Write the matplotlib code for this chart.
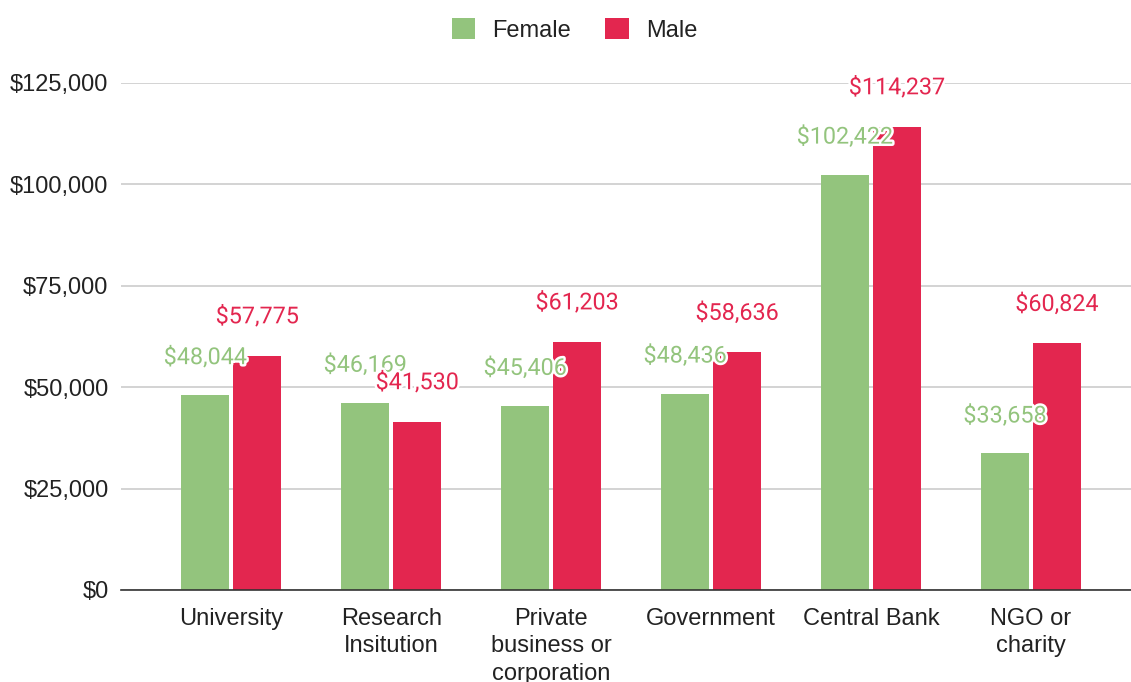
import matplotlib.pyplot as plt
import matplotlib.patheffects as pe
from matplotlib.ticker import FuncFormatter
from matplotlib.patches import Patch
import numpy as np

categories = ["University", "Research\nInsitution", "Private\nbusiness or\ncorporation",
              "Government", "Central Bank", "NGO or\ncharity"]
female = [48044, 46169, 45406, 48436, 102422, 33658]
male = [57775, 41530, 61203, 58636, 114237, 60824]

green = "#93c47d"
red = "#e3264f"
axis_font = "Liberation Sans"
label_font = "Roboto"

fig = plt.figure(figsize=(11.31, 6.82), dpi=100)
ax = fig.add_axes([121 / 1131, 1 - 590 / 682, 1 - 121 / 1131, (590 - 83) / 682])

x = np.arange(len(categories))
w = 0.3
off = 0.1625
ax.bar(x - off, female, width=w, color=green, zorder=2)
ax.bar(x + off, male, width=w, color=red, zorder=2)

halo = [pe.withStroke(linewidth=3.5, foreground="white")]
for i in range(len(categories)):
    ax.annotate(f"${female[i]:,}", (x[i] - off, female[i]), xytext=(0, 27),
                textcoords="offset points", ha="center", va="center",
                fontsize=16.8, color=green, family=label_font, path_effects=halo, zorder=3)
    ax.annotate(f"${male[i]:,}", (x[i] + off, male[i]), xytext=(0, 28),
                textcoords="offset points", ha="center", va="center",
                fontsize=16.8, color=red, family=label_font, path_effects=halo, zorder=3)

ax.set_xlim(-0.69, 5.625)
ax.set_ylim(0, 125000)
ax.set_yticks(np.arange(0, 125001, 25000))
ax.yaxis.set_major_formatter(FuncFormatter(lambda v, p: f"${v:,.0f}"))
ax.grid(axis="y", color="#cccccc", linewidth=1.2, zorder=0)
ax.set_xticks(x)
ax.set_xticklabels(categories, family=axis_font, fontsize=17, color="#222222",
                   linespacing=1.32, va="top")
for t in ax.get_yticklabels():
    t.set_family(axis_font)
    t.set_fontsize(17)
    t.set_color("#222222")
ax.tick_params(axis="both", length=0)
ax.tick_params(axis="x", pad=13)
ax.tick_params(axis="y", pad=9)
for s in ["top", "right", "left"]:
    ax.spines[s].set_visible(False)
ax.spines["bottom"].set_color("#333333")
ax.spines["bottom"].set_linewidth(1.2)
ax.spines["bottom"].set_zorder(4)

handles = [Patch(facecolor=green, label="Female"), Patch(facecolor=red, label="Male")]
fig.legend(handles=handles, loc="center", bbox_to_anchor=(0.508, 1 - 30 / 682), ncol=2,
           frameon=False, prop={"family": axis_font, "size": 17},
           handlelength=1.0, handleheight=1.0, columnspacing=1.45, handletextpad=0.72,
           labelcolor="#222222")

fig.savefig("out.png", dpi=100)
